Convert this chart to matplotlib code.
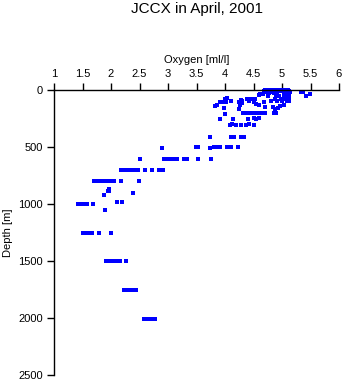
import matplotlib
matplotlib.use("Agg")
import matplotlib.pyplot as plt

plt.rcParams['font.family'] = ['Liberation Sans', 'DejaVu Sans']

# Upper water column (0-310 m): oxygen [ml/l], depth [m]
oxy_upper = [4.70, 4.74, 4.78, 4.82, 4.86, 4.90, 4.94, 4.98, 5.02, 5.06, 5.10,
             4.68, 4.76, 4.80, 4.88, 4.96, 5.00, 5.12, 5.34, 5.36,
             4.72, 4.84, 4.92, 5.04, 5.14,
             4.62, 4.66, 4.78, 4.86, 5.08, 5.49, 5.42,
             4.60, 4.75, 4.90, 4.95, 5.03, 5.10, 5.13,
             4.38, 4.45, 4.52, 4.00, 4.03, 4.28, 4.30, 4.88, 4.98, 5.05, 5.12,
             3.92, 3.97, 4.02, 4.10, 4.24, 4.30, 4.42, 4.50, 4.68, 4.80, 4.92, 5.00, 5.08, 5.12,
             3.82, 3.86, 4.26, 4.60, 4.55, 4.70, 4.85, 4.96, 5.03,
             3.98, 4.25, 4.88, 4.93,
             4.00, 4.32, 4.36, 4.40, 4.46, 4.53, 4.58, 4.65, 4.70, 4.86, 4.89,
             3.91, 4.14, 4.40, 4.50, 4.55, 4.60,
             4.08, 4.12, 4.20, 4.28, 4.36, 4.42, 4.50]
depth_upper = [3, 3, 3, 3, 3, 3, 3, 3, 3, 3, 3,
               10, 10, 10, 10, 10, 10, 10, 15, 20,
               20, 20, 20, 20, 20,
               35, 35, 30, 30, 30, 35, 50,
               45, 50, 50, 50, 50, 45, 55,
               75, 80, 75, 75, 72, 90, 95, 75, 80, 80, 75,
               105, 105, 105, 100, 105, 110, 100, 105, 105, 100, 100, 100, 95, 100,
               140, 135, 130, 130, 125, 150, 145, 140, 130,
               160, 165, 165, 160,
               210, 200, 200, 200, 200, 200, 200, 200, 200, 200, 200,
               250, 250, 250, 245, 250, 245,
               305, 300, 305, 305, 305, 300, 305]

# Intermediate water (400-1050 m)
oxy_mid = [3.74, 4.10, 4.16, 4.28, 4.34,
           2.89, 3.49, 3.53, 3.74, 3.80, 3.86, 3.92, 4.04, 4.10, 4.22,
           2.51, 2.93, 2.98, 3.03, 3.08, 3.15, 3.28, 3.34, 3.52, 3.75,
           2.17, 2.22, 2.27, 2.32, 2.38, 2.43, 2.48, 2.60, 2.72, 2.84, 2.92,
           1.70, 1.74, 1.79, 1.86, 1.92, 1.97, 2.02, 2.06, 2.18, 2.49,
           1.97, 1.94, 1.96, 2.38, 1.88, 2.10, 2.19,
           1.42, 1.47, 1.53, 1.58, 1.68, 1.90]
depth_mid = [410, 410, 415, 410, 410,
             505, 500, 500, 505, 500, 500, 500, 500, 500, 500,
             605, 605, 605, 605, 605, 605, 605, 605, 605, 605,
             700, 700, 700, 700, 700, 700, 700, 700, 700, 700, 700,
             795, 795, 795, 795, 795, 795, 795, 795, 795, 795,
             870, 885, 890, 900, 925, 980, 985,
             1000, 1000, 1000, 1000, 1000, 1050]

# Deep water (1250-2010 m)
oxy_deep = [1.51, 1.53, 1.56, 1.60, 1.67, 1.79, 2.00,
            1.92, 1.95, 1.99, 2.03, 2.08, 2.12, 2.16, 2.26,
            2.23, 2.27, 2.31, 2.36, 2.40, 2.43,
            2.58, 2.62, 2.66, 2.70, 2.74, 2.78]
depth_deep = [1250, 1250, 1250, 1250, 1250, 1250, 1250,
              1503, 1503, 1503, 1503, 1503, 1503, 1503, 1503,
              1752, 1752, 1752, 1752, 1752, 1752,
              2009, 2012, 2009, 2009, 2012, 2009]

x_ticks = [1, 1.5, 2, 2.5, 3, 3.5, 4, 4.5, 5, 5.5, 6]
x_tick_labels = ['1', '1.5', '2', '2.5', '3', '3.5', '4', '4.5', '5', '5.5', '6']
y_ticks = [0, 500, 1000, 1500, 2000, 2500]

W, H = 345, 384
fig = plt.figure(figsize=(W / 100, H / 100), dpi=100)
ax = fig.add_axes([54 / W, 1 - 375 / H, 285 / W, 285 / H])

for ox, dp in [(oxy_upper, depth_upper), (oxy_mid, depth_mid), (oxy_deep, depth_deep)]:
    ax.plot(ox, dp, linestyle='none', marker='s', markersize=2.5,
            markeredgewidth=0, color='#0000ff', clip_on=False)

ax.set_xlim(1, 6)
ax.set_ylim(2500, 0)
ax.spines['bottom'].set_visible(False)
ax.spines['right'].set_visible(False)
for s in ('top', 'left'):
    ax.spines[s].set_linewidth(1.0)
    ax.spines[s].set_color('black')

ax.xaxis.set_ticks_position('top')
ax.xaxis.set_label_position('top')
ax.set_xticks(x_ticks)
ax.set_xticklabels(x_tick_labels)
ax.set_yticks(y_ticks)
ax.tick_params(axis='both', direction='out', length=5, width=1.0,
               labelsize=8, pad=3, colors='black')
ax.set_xlabel('Oxygen [ml/l]', fontsize=8, labelpad=4)
ax.set_ylabel('Depth [m]', fontsize=8, labelpad=4)

fig.text(196.5 / W, 1 - 9 / H, 'JCCX in April, 2001', ha='center', va='center',
         fontsize=11)

fig.savefig('out.png', dpi=100)
